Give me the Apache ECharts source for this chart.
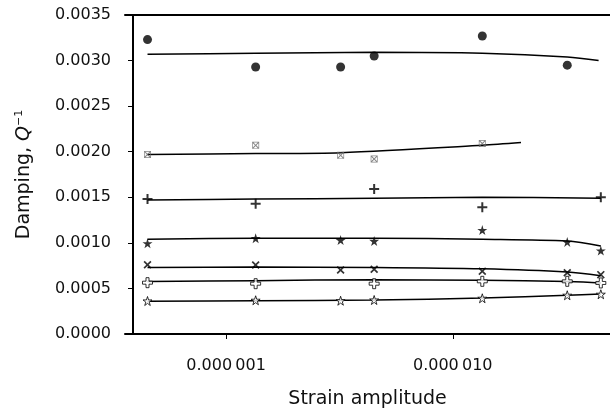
<!DOCTYPE html>
<html>
<head>
<meta charset="utf-8">
<script src="https://cdn.jsdelivr.net/npm/echarts@6/dist/echarts.min.js"></script>
<style>html,body{margin:0;padding:0;background:#fff}#c{width:610px;height:408px}</style>
</head>
<body>
<div id="c"></div>
<script>
// Strain amplitude positions of the measurements
const strain = [4.5e-7, 1.35e-6, 3.2e-6, 4.5e-6, 1.35e-5, 3.2e-5, 4.5e-5];
// Measured damping Q^-1 (null = no measurement)
const circles   = [0.00323, 0.00293, 0.00293, 0.00305, 0.00327, 0.00295, null];
const xsquares  = [0.00197, 0.00207, 0.00196, 0.00192, 0.00209, null, null];
const pluses    = [0.00148, 0.00143, null, 0.00159, 0.00139, null, 0.00150];
const stars     = [0.000995, 0.00105, 0.00103, 0.00102, 0.00114, 0.00101, 0.000915];
const crosses   = [0.00076, 0.000757, 0.000702, 0.00071, 0.000688, 0.000672, 0.000651];
const openPlus  = [0.000563, 0.000552, null, 0.000552, 0.000578, 0.000578, 0.00056];
const openStars = [0.000362, 0.00037, 0.000365, 0.000373, 0.000392, 0.000425, 0.000436];
// Fitted curves: [strain, damping]
const fitCircles  = [[4.5e-7,0.00307],[1.35e-6,0.00308],[4.5e-6,0.00309],[1.35e-5,0.00308],[3.2e-5,0.00304],[4.4e-5,0.00300]];
const fitXsquares = [[4.5e-7,0.00197],[1.35e-6,0.00198],[3.2e-6,0.00199],[1.35e-5,0.00207],[2.0e-5,0.00210]];
const fitPluses   = [[4.5e-7,0.00147],[1.35e-6,0.00148],[4.5e-6,0.00149],[1.35e-5,0.00150],[4.5e-5,0.00149]];
const fitStars    = [[4.5e-7,0.00104],[1.35e-6,0.00105],[4.5e-6,0.00105],[1.35e-5,0.00104],[3.2e-5,0.00102],[4.5e-5,0.000965]];
const fitCrosses  = [[4.5e-7,0.00073],[1.35e-6,0.000735],[4.5e-6,0.00073],[1.35e-5,0.000715],[3.2e-5,0.00068],[4.5e-5,0.00064]];
const fitOpenPlus = [[4.5e-7,0.000575],[1.35e-6,0.000585],[4.5e-6,0.000595],[1.35e-5,0.00059],[3.2e-5,0.000575],[4.5e-5,0.00056]];
const fitOpenStar = [[4.5e-7,0.00036],[1.35e-6,0.000365],[4.5e-6,0.000372],[1.35e-5,0.000395],[3.2e-5,0.000424],[4.5e-5,0.00044]];
const xTickValues = [1e-6, 1e-5];
const yTickMin = 0, yTickMax = 0.0035, yTickStep = 0.0005;

const STAR = 'path://M50,0L61.23,34.55L97.55,34.55L68.17,55.9L79.39,90.45L50,69.1L20.61,90.45L31.83,55.9L2.45,34.55L38.77,34.55Z';
const PLUS = 'path://M4,0H6V4H10V6H6V10H4V6H0V4H4Z';
const OPLUS = 'path://M3.5,0H6.5V3.5H10V6.5H6.5V10H3.5V6.5H0V3.5H3.5Z';
const XMARK = 'path://M1.5,0L5,3.5L8.5,0L10,1.5L6.5,5L10,8.5L8.5,10L5,6.5L1.5,10L0,8.5L3.5,5L0,1.5Z';
const XSQ = 'path://M0,0H10V10H0Z M1,1V9H9V1Z M2,1L5,4L8,1H9V2L6,5L9,8V9H8L5,6L2,9H1V8L4,5L1,2V1Z';

function pairs(ys){ const out=[]; ys.forEach((v,i)=>{ if(v!==null) out.push([strain[i], v]); }); return out; }

function fitSeries(d){
  return {type:'line', data:d, smooth:0.3, showSymbol:false, symbol:'none', silent:true,
    lineStyle:{color:'#000', width:1.5}, z:2};
}
function markSeries(d, symbol, size, style){
  return {type:'scatter', data:pairs(d), symbol:symbol, symbolSize:size, itemStyle:style, z:3};
}

const chart = echarts.init(document.getElementById('c'), null, {renderer:'canvas'});
const font = 'DejaVu Sans';
chart.setOption({
  animation:false,
  backgroundColor:'#fff',
  grid:{left:125, right:0, top:15, bottom:74, containLabel:false, outerBoundsMode:'none'},
  xAxis:[{
    type:'log', logBase:10, min:3.58e-7, max:4.94e-5,
    name:'Strain amplitude', nameLocation:'middle', nameGap:56,
    nameTextStyle:{fontFamily:font, fontSize:19, color:'#111'},
    axisLine:{show:true, onZero:false, lineStyle:{color:'#000', width:2}},
    axisTick:{show:true, length:5, customValues:xTickValues, lineStyle:{color:'#000', width:1}},
    axisLabel:{customValues:xTickValues, fontFamily:font, fontSize:16, color:'#111', margin:24,
      formatter:function(v){ const s=Number(v).toFixed(6); return s.slice(0,5)+'\u2009'+s.slice(5); }},
    splitLine:{show:false}, minorTick:{show:false}, minorSplitLine:{show:false}
  },{
    type:'value', position:'top', min:0, max:1,
    axisLine:{show:true, onZero:false, lineStyle:{color:'#000', width:2}},
    axisTick:{show:false}, axisLabel:{show:false}, splitLine:{show:false}
  }],
  yAxis:{
    type:'value', min:yTickMin, max:yTickMax, interval:yTickStep, offset:-8,
    name:'Damping, {i|Q}{s|\u22121}', nameLocation:'middle', nameGap:98, nameRotate:90,
    nameTextStyle:{fontFamily:font, fontSize:19, color:'#111',
      rich:{i:{fontFamily:font, fontSize:19, fontStyle:'italic', color:'#111'},
            s:{fontFamily:font, fontSize:11, color:'#111', verticalAlign:'top', padding:[0,0,10,0]}}},
    axisLine:{show:true, onZero:false, lineStyle:{color:'#000', width:2}},
    axisTick:{show:true, length:5, lineStyle:{color:'#000', width:1}},
    axisLabel:{fontFamily:font, fontSize:16, color:'#111', margin:22,
      formatter:function(v){ return Number(v).toFixed(4); }},
    splitLine:{show:false}
  },
  series:[
    fitSeries(fitCircles), fitSeries(fitXsquares), fitSeries(fitPluses), fitSeries(fitStars),
    fitSeries(fitCrosses), fitSeries(fitOpenPlus), fitSeries(fitOpenStar),
    markSeries(circles, 'circle', 9, {color:'#000'}),
    markSeries(xsquares, XSQ, 7, {color:'#666'}),
    markSeries(pluses, PLUS, 10, {color:'#000'}),
    markSeries(stars, STAR, 10, {color:'#000'}),
    markSeries(crosses, XMARK, 8, {color:'#000'}),
    markSeries(openPlus, OPLUS, 10, {color:'#fff', borderColor:'#000', borderWidth:1}),
    markSeries(openStars, STAR, 9, {color:'#fff', borderColor:'#000', borderWidth:1})
  ]
});
</script>
</body>
</html>
